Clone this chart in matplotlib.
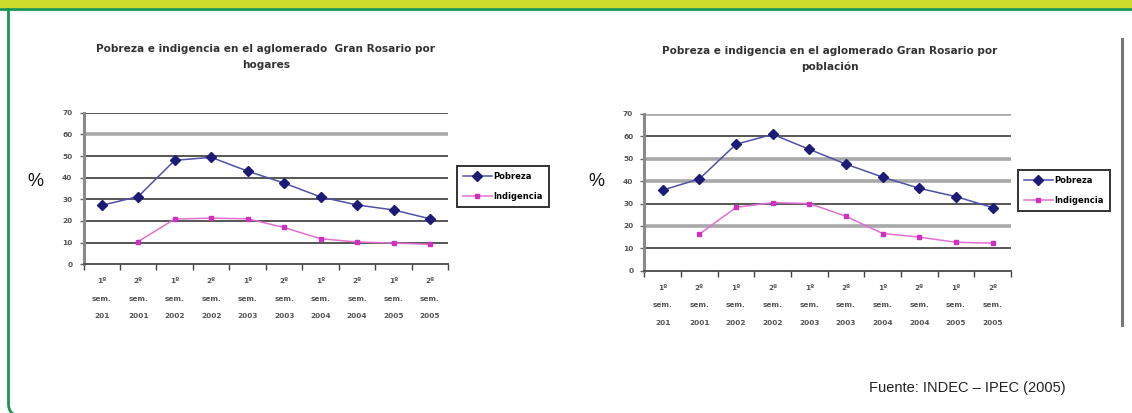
import numpy as np
import matplotlib.pyplot as plt
from matplotlib.path import Path
from matplotlib.patches import PathPatch, Rectangle

plt.rcParams['font.family'] = ['Liberation Sans', 'DejaVu Sans']

# data
periodos = ['1º\nsem.\n201', '2º\nsem.\n2001', '1º\nsem.\n2002', '2º\nsem.\n2002',
            '1º\nsem.\n2003', '2º\nsem.\n2003', '1º\nsem.\n2004', '2º\nsem.\n2004',
            '1º\nsem.\n2005', '2º\nsem.\n2005']
hog_pobreza = [27.2, 31.3, 48.0, 49.4, 43.0, 37.5, 31.1, 27.4, 25.1, 21.0]
hog_indigencia = [np.nan, 10.5, 20.9, 21.3, 21.0, 17.0, 11.8, 10.3, 9.8, 9.2]
pob_pobreza = [36.0, 41.0, 56.5, 60.9, 54.2, 47.6, 41.8, 36.8, 33.1, 28.2]
pob_indigencia = [np.nan, 16.3, 28.3, 30.4, 30.0, 24.3, 16.6, 15.0, 12.7, 12.3]
yticks = [0, 10, 20, 30, 40, 50, 60, 70]

W, H = 1132, 413
fig = plt.figure(figsize=(W / 100, H / 100), dpi=100)

# frame drawn in pixel coordinates
bg = fig.add_axes([0, 0, 1, 1], zorder=0)
bg.set_xlim(0, W)
bg.set_ylim(H, 0)
bg.axis('off')
bg.add_patch(Rectangle((0, 0), W, 8, color='#cedb2b', lw=0))
bg.plot([0, W], [8.5, 8.5], color='#1a9650', lw=2)
frame = Path([(8.5, 8), (8.5, 404), (8.5, 416), (22, 416)],
             [Path.MOVETO, Path.LINETO, Path.CURVE3, Path.CURVE3])
bg.add_patch(PathPatch(frame, fill=False, edgecolor='#1a9650', lw=2))
bg.plot([1121.5, 1121.5], [39, 325], color='#777777', lw=2.2)

small = {'family': 'DejaVu Sans', 'weight': 'bold', 'size': 5.3}


def px(x0, x1, ytop, y0):
    return [x0 / W, 1 - y0 / H, (x1 - x0) / W, (y0 - ytop) / H]


def chart(rect, pobreza, indigencia, grid_styles, title, title_xy, legend_xy):
    ax = fig.add_axes(rect, zorder=2)
    x = np.arange(len(periodos))
    for v, st in zip(yticks[1:], grid_styles):
        if st == 'g':
            ax.axhline(v, color='#a8a8a8', lw=2.6, zorder=1)
        else:
            ax.axhline(v, color='#3a3a3a', lw=1.2, zorder=1)
    ax.plot(x, pobreza, color='#5050a8', lw=1.1, marker='D', ms=4.6,
            mfc='#1c1c78', mec='#1c1c78', label='Pobreza', zorder=3)
    ax.plot(x, indigencia, color='#e070d0', lw=1.1, marker='s', ms=3.2,
            mfc='#d030c0', mec='#d030c0', label='Indigencia', zorder=3)
    ax.set_xlim(-0.5, len(periodos) - 0.5)
    ax.set_ylim(0, 70)
    ax.set_yticks(yticks)
    ax.set_yticklabels([str(v) for v in yticks], fontdict=small, color='#555555')
    ax.set_xticks(x)
    ax.set_xticklabels([])
    # three-line category labels, placed by hand for the wide line spacing
    for xi, lab in zip(x, periodos):
        ax.annotate(lab, (xi, 0), xycoords=('data', 'axes fraction'),
                    xytext=(0, -10), textcoords='offset points', ha='center',
                    va='top', fontsize=5.3, fontweight='bold',
                    family='DejaVu Sans', color='#555555', linespacing=3.3)
    ax.set_xticks(np.arange(-0.5, len(periodos)), minor=True)
    ax.tick_params(axis='x', which='major', length=0)
    ax.tick_params(axis='x', which='minor', length=4, width=1, color='#444444')
    ax.tick_params(axis='y', length=3, width=1, color='#666666', pad=5)
    for s in ['top', 'right']:
        ax.spines[s].set_visible(False)
    ax.spines['left'].set_color('#8a8a8a')
    ax.spines['left'].set_linewidth(2.2)
    ax.spines['bottom'].set_color('#555555')
    ax.spines['bottom'].set_linewidth(1.4)
    ax.set_facecolor('none')

    fig.text(title_xy[0] / W, 1 - title_xy[1] / H, title, ha='center',
             va='center', fontsize=7.6, fontweight='bold', family='DejaVu Sans',
             color='#333333', linespacing=1.75)
    fig.text((rect[0] * W - 48) / W, 1 - 181 / H, '%', ha='center',
             va='center', fontsize=13, color='#111111')
    leg = ax.legend(loc='upper left',
                    bbox_to_anchor=(legend_xy[0] / W, 1 - legend_xy[1] / H),
                    bbox_transform=fig.transFigure,
                    prop={'family': 'DejaVu Sans', 'weight': 'bold', 'size': 6},
                    fancybox=False, edgecolor='#333333', framealpha=1,
                    handlelength=3.4, labelspacing=1.3, borderpad=0.75,
                    handletextpad=0.2, borderaxespad=0)
    leg.get_frame().set_linewidth(1.4)
    return ax


chart(px(83.5, 448.3, 112.7, 264.3), hog_pobreza, hog_indigencia,
      ['d', 'd', 'd', 'd', 'd', 'g', 'd'],
      'Pobreza e indigencia en el aglomerado  Gran Rosario por\nhogares',
      (266, 57), (457, 166))
chart(px(644.4, 1011, 114, 270.7), pob_pobreza, pob_indigencia,
      ['d', 'g', 'd', 'g', 'g', 'd', 'g'],
      'Pobreza e indigencia en el aglomerado Gran Rosario por\npoblación',
      (830, 59), (1018, 170))

fig.text(1066 / W, 1 - 388 / H, 'Fuente: INDEC – IPEC (2005)', ha='right',
         va='center', fontsize=10.5, color='#222222')

fig.savefig('out.png', dpi=100)
